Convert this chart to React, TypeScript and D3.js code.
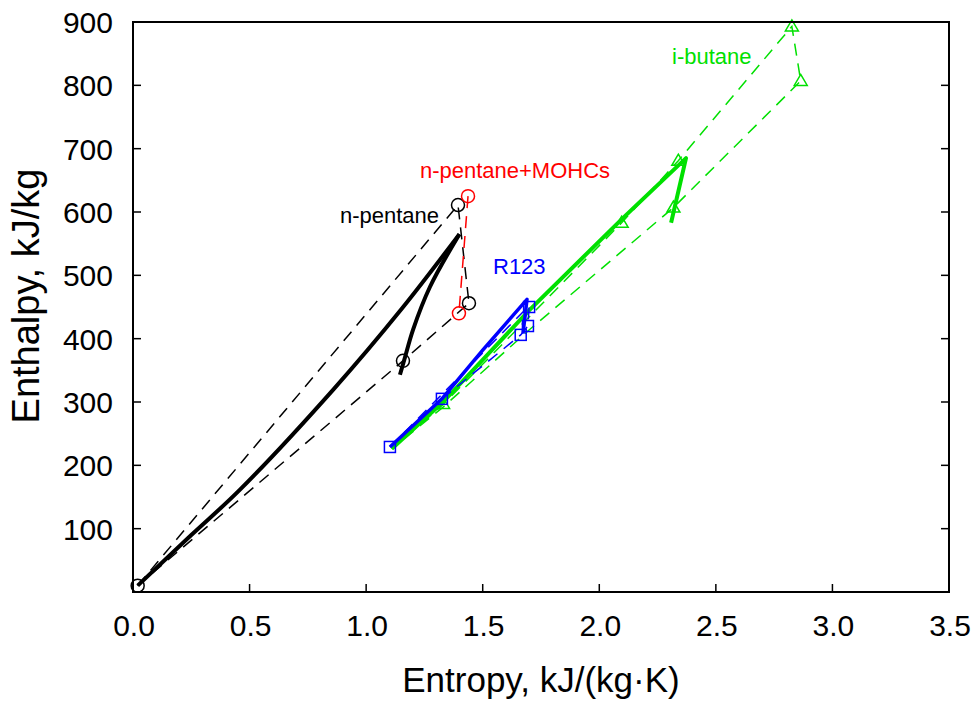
import React from "react";
import * as d3 from "d3";

type P = [number, number];

// tick values
const xTicks = [0, 0.5, 1.0, 1.5, 2.0, 2.5, 3.0, 3.5];
const yTicks = [100, 200, 300, 400, 500, 600, 700, 800, 900];

// n-pentane (black)
const pentaneRise: P[] = [[0.02, 10], [0.25, 90], [0.46, 162], [0.86, 320], [1.15, 446], [1.40, 565]];
const pentaneFall: P[] = [[1.40, 565], [1.274, 482], [1.201, 414], [1.167, 371], [1.145, 343]];
const pentaneCycle: P[] = [[0.02, 10], [1.394, 611], [1.441, 456], [1.158, 365], [0.02, 10]];
const pentaneMarks: P[] = [[0.02, 10], [1.394, 611], [1.441, 456], [1.158, 365]];

// n-pentane+MOHCs (red)
const mohcCycle: P[] = [[1.437, 625], [1.398, 440]];
const mohcMarks: P[] = [[1.437, 625], [1.398, 440]];

// R123 (blue)
const r123Thick: P[] = [[1.102, 229], [1.325, 305], [1.50, 382], [1.69, 462], [1.673, 408]];
const r123Cycle: P[] = [[1.102, 229], [1.40, 340], [1.699, 452], [1.694, 420], [1.663, 406], [1.325, 305], [1.102, 229]];
const r123Marks: P[] = [[1.102, 229], [1.325, 305], [1.663, 406], [1.694, 420], [1.699, 450]];

// i-butane (green)
const butaneThick: P[] = [[1.11, 226], [1.33, 300], [1.70, 445], [2.10, 590], [2.372, 685], [2.308, 583]];
const butaneCycle: P[] = [[1.11, 226], [1.33, 296], [2.096, 583], [2.339, 681], [2.826, 893], [2.864, 807], [2.318, 607], [1.70, 414], [1.33, 292], [1.11, 226]];
const butaneMarks: P[] = [[1.33, 297], [2.096, 583], [2.339, 681], [2.826, 893], [2.864, 807], [2.318, 607]];

const W = 973, H = 702;
const L = 133, R = 949, T = 22, B = 592;

const x = d3.scaleLinear().domain([0, 3.5]).range([L, R]);
const y = d3.scaleLinear().domain([0, 900]).range([B, T]);

const straight = d3.line<P>().x(d => x(d[0])).y(d => y(d[1]));
const smooth = d3.line<P>().x(d => x(d[0])).y(d => y(d[1])).curve(d3.curveCatmullRom.alpha(0.5));

const BLACK = "#000000", RED = "#ff0000", BLUE = "#0000ff", GREEN = "#00e000";
const DASH = "12 8";
const FONT = "'Liberation Sans', Arial, sans-serif";

function Circles({ pts, color }: { pts: P[]; color: string }) {
  return <g>{pts.map((p, i) => <circle key={i} cx={x(p[0])} cy={y(p[1])} r={6.5} fill="none" stroke={color} strokeWidth={1.5} />)}</g>;
}
function Squares({ pts, color }: { pts: P[]; color: string }) {
  return <g>{pts.map((p, i) => <rect key={i} x={x(p[0]) - 5.5} y={y(p[1]) - 5.5} width={11} height={11} fill="none" stroke={color} strokeWidth={1.5} />)}</g>;
}
function Triangles({ pts, color }: { pts: P[]; color: string }) {
  const s = 6.5;
  return <g>{pts.map((p, i) => {
    const cx = x(p[0]), cy = y(p[1]);
    return <path key={i} d={`M${cx},${cy - s}L${cx + s},${cy + s * 0.7}L${cx - s},${cy + s * 0.7}Z`} fill="none" stroke={color} strokeWidth={1.5} />;
  })}</g>;
}

export default function App() {
  return (
    <svg width={W} height={H} style={{ position: "absolute", left: 0, top: 0, background: "#fff" }} fontFamily={FONT}>
      <rect x={0} y={0} width={W} height={H} fill="#fff" />
      {/* black */}
      <path d={straight(pentaneCycle)!} fill="none" stroke={BLACK} strokeWidth={1.5} strokeDasharray={DASH} />
      <path d={smooth(pentaneRise)!} fill="none" stroke={BLACK} strokeWidth={4} />
      <path d={smooth(pentaneFall)!} fill="none" stroke={BLACK} strokeWidth={4} />
      <Circles pts={pentaneMarks} color={BLACK} />
      {/* red */}
      <path d={straight(mohcCycle)!} fill="none" stroke={RED} strokeWidth={1.5} strokeDasharray={DASH} />
      <Circles pts={mohcMarks} color={RED} />
      {/* green */}
      <path d={straight(butaneCycle)!} fill="none" stroke={GREEN} strokeWidth={1.5} strokeDasharray={DASH} />
      <path d={straight(butaneThick)!} fill="none" stroke={GREEN} strokeWidth={4} strokeLinejoin="round" />
      <Triangles pts={butaneMarks} color={GREEN} />
      {/* blue */}
      <path d={straight(r123Cycle)!} fill="none" stroke={BLUE} strokeWidth={1.5} strokeDasharray={DASH} />
      <path d={straight(r123Thick)!} fill="none" stroke={BLUE} strokeWidth={3.5} strokeLinejoin="round" />
      <Squares pts={r123Marks} color={BLUE} />

      {/* labels */}
      <text x={439} y={223} fontSize={22} textAnchor="end" fill={BLACK}>n-pentane</text>
      <text x={515} y={178} fontSize={22} textAnchor="middle" fill={RED}>n-pentane+MOHCs</text>
      <text x={493} y={274} fontSize={22} fill={BLUE}>R123</text>
      <text x={672} y={64} fontSize={22} fill={GREEN}>i-butane</text>

      {/* frame */}
      <rect x={L} y={T} width={R - L} height={B - T} fill="none" stroke="#000" strokeWidth={2} />
      {xTicks.filter(t => t > 0 && t < 3.5).map(t => (
        <line key={"xt" + t} x1={x(t)} x2={x(t)} y1={B} y2={B - 8} stroke="#000" strokeWidth={1.5} />
      ))}
      {yTicks.filter(t => t < 900).map(t => (
        <g key={"yt" + t}>
          <line x1={L} x2={L + 8} y1={y(t)} y2={y(t)} stroke="#000" strokeWidth={1.5} />
          <line x1={R} x2={R - 8} y1={y(t)} y2={y(t)} stroke="#000" strokeWidth={1.5} />
        </g>
      ))}
      {xTicks.map(t => (
        <text key={"xl" + t} x={x(t) + 1} y={636} fontSize={30} textAnchor="middle">{d3.format(".1f")(t)}</text>
      ))}
      {yTicks.map(t => (
        <text key={"yl" + t} x={113} y={y(t) + 11} fontSize={30} textAnchor="end">{t}</text>
      ))}
      <text x={(L + R) / 2} y={692} fontSize={35} textAnchor="middle">Entropy, kJ/(kg·K)</text>
      <text transform={`translate(39,296) rotate(-90)`} fontSize={38} textAnchor="middle">Enthalpy, kJ/kg</text>
    </svg>
  );
}
